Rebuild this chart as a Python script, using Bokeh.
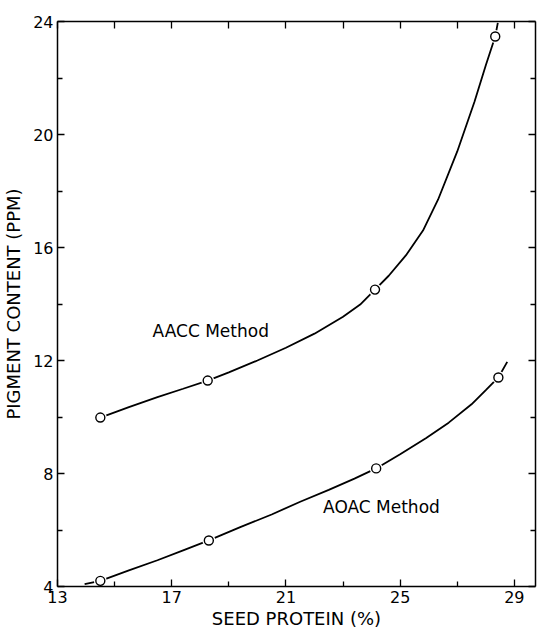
from bokeh.plotting import figure
from bokeh.models import FixedTicker, LinearAxis, Range1d, Label
from bokeh.embed import file_html
from bokeh.resources import INLINE

# Axis ticks
x_major = [13, 17, 21, 25, 29]
x_minor = [15, 19, 23, 27]
y_major = [4, 8, 12, 16, 20, 24]
y_minor = [6, 10, 14, 18, 22]

# Measured points (seed protein %, pigment ppm)
aacc_x = [14.5, 18.26, 24.12, 28.33]
aacc_y = [9.98, 11.29, 14.51, 23.47]
aoac_x = [14.5, 18.3, 24.16, 28.44]
aoac_y = [4.2, 5.63, 8.18, 11.4]

# Hand-drawn fitted curves
aacc_curve_x = [14.5, 15.5, 16.5, 17.4, 18.26, 19.0, 20.0, 21.0, 22.0, 23.0, 23.6,
                24.12, 24.6, 25.2, 25.8, 26.33, 27.0, 27.6, 28.0, 28.33, 28.42]
aacc_curve_y = [9.98, 10.35, 10.7, 11.0, 11.29, 11.58, 12.0, 12.45, 12.95, 13.55, 13.98,
                14.51, 15.0, 15.72, 16.6, 17.7, 19.4, 21.15, 22.45, 23.47, 23.95]
aoac_curve_x = [13.95, 14.5, 15.5, 16.5, 17.4, 18.3, 19.4, 20.5, 21.5, 22.5, 23.4,
                24.16, 25.0, 25.9, 26.7, 27.5, 28.0, 28.44, 28.75]
aoac_curve_y = [4.08, 4.2, 4.57, 4.93, 5.28, 5.63, 6.1, 6.55, 7.0, 7.42, 7.82,
                8.18, 8.68, 9.25, 9.8, 10.45, 10.95, 11.4, 11.95]

FONT = "DejaVu Sans"

p = figure(frame_width=478, frame_height=565, output_backend="svg", toolbar_location=None,
           x_range=Range1d(13, 29.74), y_range=Range1d(4, 24),
           x_axis_type=None, y_axis_type=None,
           min_border_left=56, min_border_top=21, min_border_right=5, min_border_bottom=45)
p.outline_line_color = None
p.xgrid.visible = False
p.ygrid.visible = False
p.background_fill_color = "white"
p.border_fill_color = "white"


def style(ax, show_labels):
    ax.major_tick_in = 7
    ax.major_tick_out = 0
    ax.minor_tick_in = 5
    ax.minor_tick_out = 0
    ax.axis_line_width = 1.5
    ax.major_tick_line_width = 1.3
    ax.minor_tick_line_width = 1.3
    ax.axis_line_color = "black"
    ax.major_label_text_font = FONT
    ax.major_label_text_font_size = "16px"
    ax.major_label_text_color = "black"
    ax.axis_label_text_font = FONT
    ax.axis_label_text_font_size = "18px"
    ax.axis_label_text_font_style = "normal"
    ax.axis_label_text_color = "black"
    if not show_labels:
        ax.major_label_text_font_size = "0px"
        ax.major_label_standoff = 0
        ax.major_label_text_alpha = 0


xt = FixedTicker(ticks=x_major, minor_ticks=x_minor)
yt = FixedTicker(ticks=y_major, minor_ticks=y_minor)

xb = LinearAxis(ticker=xt, axis_label="SEED PROTEIN (%)")
style(xb, True)
xb.major_label_standoff = 4
xb.axis_label_standoff = 2
p.add_layout(xb, "below")

yl = LinearAxis(ticker=yt, axis_label="PIGMENT CONTENT (PPM)")
style(yl, True)
yl.major_label_standoff = 4
yl.axis_label_standoff = 6
yl.major_label_orientation = "horizontal"
p.add_layout(yl, "left")

xa = LinearAxis(ticker=FixedTicker(ticks=x_major + x_minor))
style(xa, False)
xa.minor_tick_in = 0
p.add_layout(xa, "above")

yr = LinearAxis(ticker=yt)
style(yr, False)
p.add_layout(yr, "right")

# Curves
p.line(aacc_curve_x, aacc_curve_y, line_color="black", line_width=1.8)
p.line(aoac_curve_x, aoac_curve_y, line_color="black", line_width=1.8)

# Open circles with a small white halo (gap in the line)
for xs, ys in ((aacc_x, aacc_y), (aoac_x, aoac_y)):
    p.scatter(xs, ys, size=13, fill_color="white", line_color=None)
    p.scatter(xs, ys, size=9, fill_color="white", line_color="black", line_width=1.4)

p.add_layout(Label(x=16.33, y=13.06, text="AACC  Method", text_baseline="middle",
                   text_font=FONT, text_font_size="17px", text_color="black"))
p.add_layout(Label(x=22.3, y=6.8, text="AOAC  Method", text_baseline="middle",
                   text_font=FONT, text_font_size="17px", text_color="black"))

open("out.html", "w").write(file_html(p, INLINE))
